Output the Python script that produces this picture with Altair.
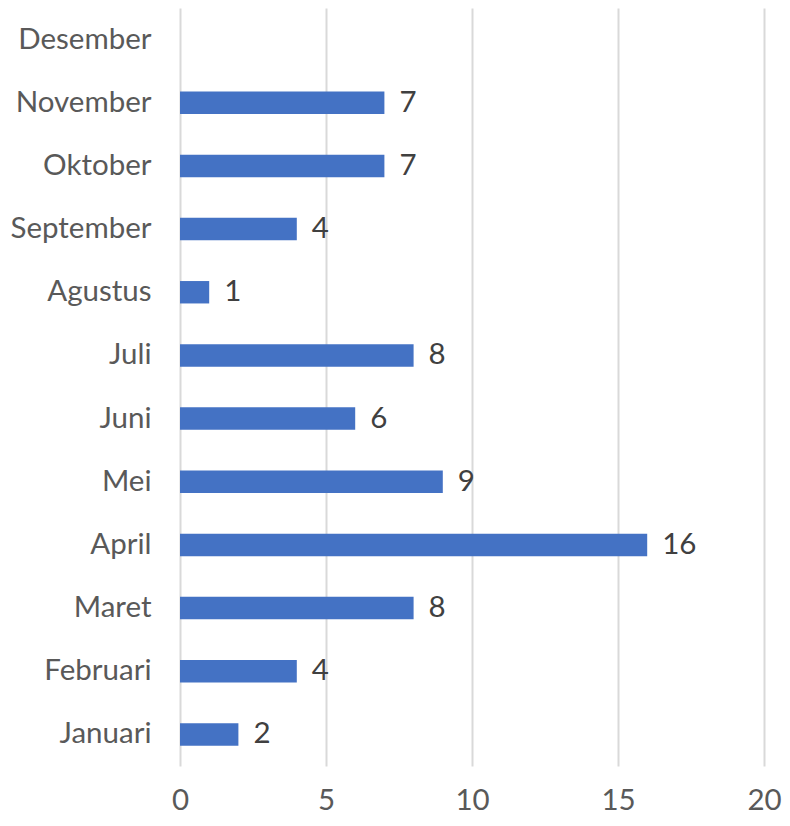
import altair as alt
import pandas as pd

months = ["Januari", "Februari", "Maret", "April", "Mei", "Juni", "Juli",
          "Agustus", "September", "Oktober", "November", "Desember"]
values = [2, 4, 8, 16, 9, 6, 8, 1, 4, 7, 7, None]

df = pd.DataFrame({"bulan": months, "jumlah": values})
order = list(reversed(months))

FONT = "Lato"
FS = 29.5

y_enc = alt.Y("bulan:N", sort=order, title=None,
              scale=alt.Scale(paddingInner=0.645, paddingOuter=0.3225),
              axis=alt.Axis(domain=False, ticks=False, labelFontSize=FS,
                            labelFont=FONT, labelColor="#595959",
                            labelPadding=29, grid=False))
x_enc = alt.X("jumlah:Q", title=None,
              scale=alt.Scale(domain=[0, 20], nice=False),
              axis=alt.Axis(values=[0, 5, 10, 15, 20], domain=False, ticks=False,
                            labelFlush=False,
                            labelFontSize=FS, labelFont=FONT, labelColor="#595959",
                            labelPadding=20, gridColor="#d9d9d9", gridWidth=2))

bars = alt.Chart(df).mark_bar(color="#4472C4").encode(x=x_enc, y=y_enc)

labels = alt.Chart(df).transform_filter("datum.jumlah != null").mark_text(
    align="left", baseline="middle", dx=15, fontSize=FS, font=FONT, color="#404040"
).encode(x="jumlah:Q", y=alt.Y("bulan:N", sort=order), text="jumlah:Q")

chart = (bars + labels).properties(
    width=584, height=758,
    autosize=alt.AutoSizeParams(type="none"),
    padding={"left": 172, "top": 0, "right": 18, "bottom": 48},
).configure_view(stroke=None)

chart.save("out.html", embed_options={"renderer": "svg", "actions": False})
